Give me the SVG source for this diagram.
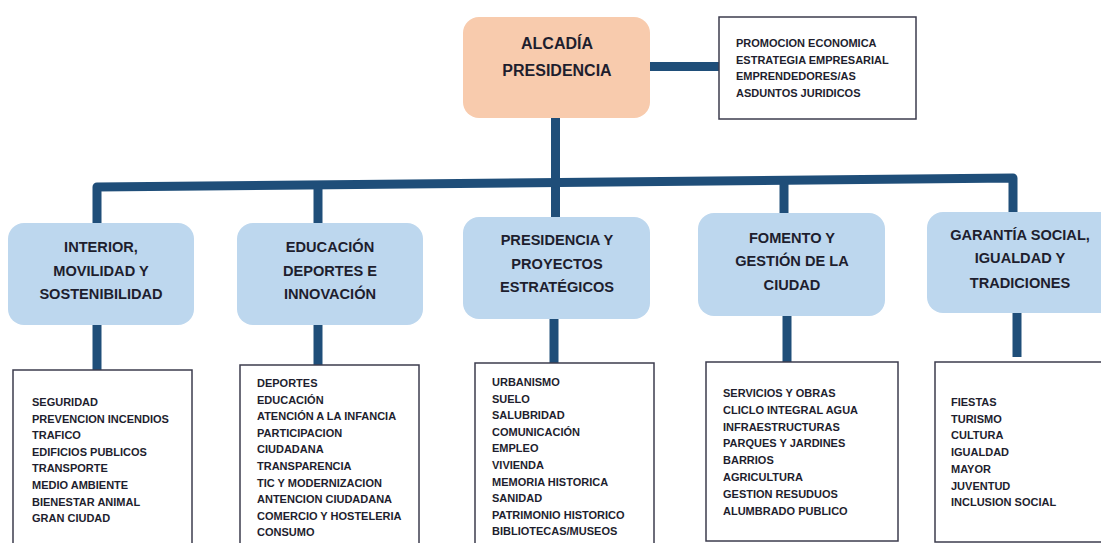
<svg xmlns="http://www.w3.org/2000/svg" width="1101" height="543" viewBox="0 0 1101 543">
<style>
.conn{stroke:#1F4E79;stroke-width:9;fill:none;stroke-linejoin:round}
.top{fill:#F8CBAD}
.dept{fill:#BDD7EE}
.leaf{fill:#fff;stroke:#3C3C4E;stroke-width:1.5}
.nt{font-family:"Liberation Sans",Arial,sans-serif;font-weight:bold;font-size:14.6px;fill:#1E1E2E;text-anchor:middle}
.tt{font-family:"Liberation Sans",Arial,sans-serif;font-weight:bold;font-size:16px;fill:#1E1E2E;text-anchor:middle}
.lt{font-family:"Liberation Sans",Arial,sans-serif;font-weight:bold;font-size:11px;fill:#1E1E2E}
</style>
<rect width="1101" height="543" fill="#fff"/>
<g id="connectors">
<line class="conn" x1="650" y1="66.5" x2="719" y2="66.5"/>
<line class="conn" x1="555.5" y1="118" x2="555.5" y2="217"/>
<path class="conn" d="M97,223 L97,187 L1013,178 L1013,212"/>
<line class="conn" x1="318" y1="185" x2="318" y2="223"/>
<line class="conn" x1="784" y1="180" x2="784" y2="213"/>
<line class="conn" x1="97" y1="325" x2="97" y2="370"/>
<line class="conn" x1="318" y1="325" x2="318" y2="365"/>
<line class="conn" x1="554" y1="319" x2="554" y2="363"/>
<line class="conn" x1="787" y1="316" x2="787" y2="362"/>
<line class="conn" x1="1017" y1="313" x2="1017" y2="357"/>
</g>
<g id="alcaldia">
<rect class="top" x="463" y="17" width="187" height="101" rx="16"/>
<text class="tt" x="557" y="49">ALCADÍA</text>
<text class="tt" x="557" y="76">PRESIDENCIA</text>
</g>
<g id="promocion">
<rect class="leaf" x="719" y="17" width="197" height="102"/>
<text class="lt" x="736" y="47">PROMOCION ECONOMICA</text>
<text class="lt" x="736" y="63.7">ESTRATEGIA EMPRESARIAL</text>
<text class="lt" x="736" y="80.4">EMPRENDEDORES/AS</text>
<text class="lt" x="736" y="97">ASDUNTOS JURIDICOS</text>
</g>
<g id="interior">
<rect class="dept" x="8" y="223" width="186" height="102" rx="16"/>
<text class="nt" x="101" y="252">INTERIOR,</text>
<text class="nt" x="101" y="276">MOVILIDAD Y</text>
<text class="nt" x="101" y="299">SOSTENIBILIDAD</text>
</g>
<g id="educacion">
<rect class="dept" x="237" y="223" width="186" height="102" rx="16"/>
<text class="nt" x="330" y="252">EDUCACIÓN</text>
<text class="nt" x="330" y="276">DEPORTES E</text>
<text class="nt" x="330" y="299">INNOVACIÓN</text>
</g>
<g id="presidencia">
<rect class="dept" x="463" y="217" width="187" height="102" rx="16"/>
<text class="nt" x="557" y="245">PRESIDENCIA Y</text>
<text class="nt" x="557" y="269">PROYECTOS</text>
<text class="nt" x="557" y="292">ESTRATÉGICOS</text>
</g>
<g id="fomento">
<rect class="dept" x="698" y="213" width="187" height="103" rx="16"/>
<text class="nt" x="792" y="243">FOMENTO Y</text>
<text class="nt" x="792" y="266">GESTIÓN DE LA</text>
<text class="nt" x="792" y="290">CIUDAD</text>
</g>
<g id="garantia">
<rect class="dept" x="927" y="212" width="190" height="101" rx="16"/>
<text class="nt" x="1020" y="240">GARANTÍA SOCIAL,</text>
<text class="nt" x="1020" y="263">IGUALDAD Y</text>
<text class="nt" x="1020" y="288">TRADICIONES</text>
</g>
<g id="interior-areas">
<rect class="leaf" x="13" y="370" width="179" height="185"/>
<text class="lt" x="32" y="406">SEGURIDAD</text>
<text class="lt" x="32" y="422.6">PREVENCION INCENDIOS</text>
<text class="lt" x="32" y="439.2">TRAFICO</text>
<text class="lt" x="32" y="455.8">EDIFICIOS PUBLICOS</text>
<text class="lt" x="32" y="472.4">TRANSPORTE</text>
<text class="lt" x="32" y="489">MEDIO AMBIENTE</text>
<text class="lt" x="32" y="505.6">BIENESTAR ANIMAL</text>
<text class="lt" x="32" y="522.2">GRAN CIUDAD</text>
</g>
<g id="educacion-areas">
<rect class="leaf" x="240" y="365" width="179" height="190"/>
<text class="lt" x="257" y="387">DEPORTES</text>
<text class="lt" x="257" y="403.6">EDUCACIÓN</text>
<text class="lt" x="257" y="420.2">ATENCIÓN A LA INFANCIA</text>
<text class="lt" x="257" y="436.8">PARTICIPACION</text>
<text class="lt" x="257" y="453.4">CIUDADANA</text>
<text class="lt" x="257" y="470">TRANSPARENCIA</text>
<text class="lt" x="257" y="486.6">TIC Y MODERNIZACION</text>
<text class="lt" x="257" y="503.2">ANTENCION CIUDADANA</text>
<text class="lt" x="257" y="519.8">COMERCIO Y HOSTELERIA</text>
<text class="lt" x="257" y="536.4">CONSUMO</text>
</g>
<g id="presidencia-areas">
<rect class="leaf" x="475" y="363" width="179" height="192"/>
<text class="lt" x="492" y="386">URBANISMO</text>
<text class="lt" x="492" y="402.6">SUELO</text>
<text class="lt" x="492" y="419.2">SALUBRIDAD</text>
<text class="lt" x="492" y="435.8">COMUNICACIÓN</text>
<text class="lt" x="492" y="452.4">EMPLEO</text>
<text class="lt" x="492" y="469">VIVIENDA</text>
<text class="lt" x="492" y="485.6">MEMORIA HISTORICA</text>
<text class="lt" x="492" y="502.2">SANIDAD</text>
<text class="lt" x="492" y="518.8">PATRIMONIO HISTORICO</text>
<text class="lt" x="492" y="535.4">BIBLIOTECAS/MUSEOS</text>
</g>
<g id="fomento-areas">
<rect class="leaf" x="706" y="362" width="192" height="179"/>
<text class="lt" x="723" y="397">SERVICIOS Y OBRAS</text>
<text class="lt" x="723" y="413.8">CLICLO INTEGRAL AGUA</text>
<text class="lt" x="723" y="430.6">INFRAESTRUCTURAS</text>
<text class="lt" x="723" y="447.4">PARQUES Y JARDINES</text>
<text class="lt" x="723" y="464.2">BARRIOS</text>
<text class="lt" x="723" y="481">AGRICULTURA</text>
<text class="lt" x="723" y="497.8">GESTION RESUDUOS</text>
<text class="lt" x="723" y="514.6">ALUMBRADO PUBLICO</text>
</g>
<g id="garantia-areas">
<rect class="leaf" x="935" y="362" width="180" height="180"/>
<text class="lt" x="951" y="406">FIESTAS</text>
<text class="lt" x="951" y="422.7">TURISMO</text>
<text class="lt" x="951" y="439.4">CULTURA</text>
<text class="lt" x="951" y="456.1">IGUALDAD</text>
<text class="lt" x="951" y="472.8">MAYOR</text>
<text class="lt" x="951" y="489.5">JUVENTUD</text>
<text class="lt" x="951" y="506.2">INCLUSION SOCIAL</text>
</g>
</svg>
